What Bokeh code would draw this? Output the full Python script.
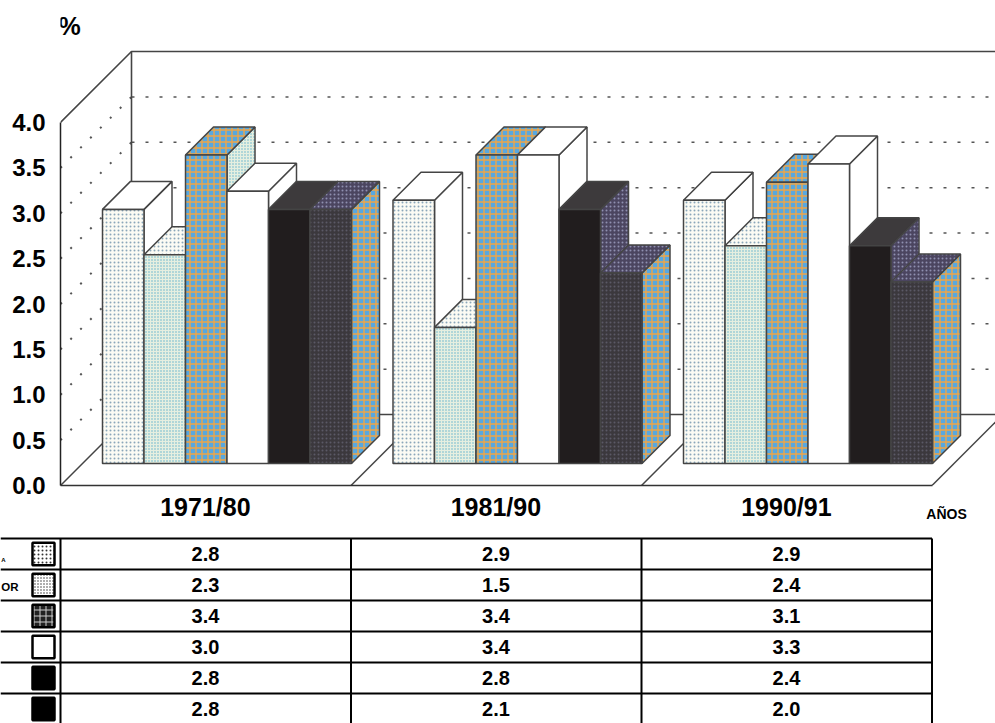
from bokeh.plotting import figure
from bokeh.layouts import column
from bokeh.models import Range1d, FixedTicker, Label, LinearAxis
from bokeh.core.properties import value
from bokeh.embed import file_html
from bokeh.resources import INLINE

# ---- data ----
periods = ["1971/80", "1981/90", "1990/91"]
s1 = [2.8, 2.9, 2.9]
s2 = [2.3, 1.5, 2.4]
s3 = [3.4, 3.4, 3.1]
s4 = [3.0, 3.4, 3.3]
s5 = [2.8, 2.8, 2.4]
s6 = [2.8, 2.1, 2.0]
series = [s1, s2, s3, s4, s5, s6]
y_ticks = [0, 0.5, 1, 1.5, 2, 2.5, 3, 3.5, 4]
row_labels = ["A", "OR"]

# ---- layout of the oblique projection ----
W, H_TOP, H_BOT = 995, 528, 195
PX_X, PX_Y = 290.5, 90.75       # pixels per group / per unit of value
KX, KY = 1 / PX_X, 1 / PX_Y     # one pixel of depth in data units
D_FRONT, D_BACK, D_WALL = 22, 50, 71
OX = -20 / PX_X                 # floor edge offset of a group
X0 = 80                         # pixel column of x=0
NB = 7


def proj(x, v, d):
    return x + d * KX, v + d * KY


x_range = Range1d((60 - X0) / PX_X, (W - X0) / PX_X)
y_range = Range1d(0, 485 / PX_Y)

p = figure(width=W, height=H_TOP, x_range=x_range, y_range=y_range,
           output_backend="svg", toolbar_location=None,
           min_border=0, min_border_left=60, min_border_bottom=43,
           outline_line_color=None, background_fill_color="white")
p.frame_align = False
p.grid.visible = False

FONT = "Liberation Sans"
p.yaxis.ticker = FixedTicker(ticks=y_ticks)
p.yaxis.major_label_overrides = {t: f"{t:.1f}" for t in y_ticks}
p.yaxis.bounds = (0, 4)
p.yaxis.major_tick_line_color = None
p.yaxis.minor_tick_line_color = None
p.yaxis.axis_line_color = "#222222"
p.yaxis.axis_line_width = 1.5
p.yaxis.major_label_standoff = 9
p.yaxis.major_label_text_font = FONT
p.yaxis.major_label_text_font_style = "bold"
p.yaxis.major_label_text_font_size = "24px"
p.yaxis.major_label_text_color = "black"

centers = [i + 0.43 for i in range(3)]
main_x = p.xaxis[0]
main_x.ticker = FixedTicker(ticks=centers)
main_x.major_label_overrides = dict(zip(centers, periods))
main_x.bounds = (OX, 3 + OX)
main_x.major_tick_line_color = None
main_x.minor_tick_line_color = None
main_x.axis_line_color = "#333333"
main_x.axis_line_width = 1.5
main_x.major_label_standoff = 1
main_x.major_label_text_font = FONT
main_x.major_label_text_font_style = "bold"
main_x.major_label_text_font_size = "25px"
main_x.major_label_text_color = "black"

# the axis title sits to the right of the last period, as a second axis under the first
anos_x = (946 - X0) / PX_X
anos = LinearAxis(ticker=FixedTicker(ticks=[anos_x]), major_label_overrides={anos_x: "AÑOS"},
                  axis_line_color=None, major_tick_line_color=None, minor_tick_line_color=None,
                  major_label_standoff=-24, major_label_text_font=FONT,
                  major_label_text_font_style="bold", major_label_text_font_size="14px",
                  major_label_text_color="black")
p.add_layout(anos, "below")

GRID = "#555555"
EDGE = "#444444"
x_right = x_range.end

# gridlines on the back wall and dotted guides on the left wall
for t_val in y_ticks[1:-1]:
    wx, wy = proj(OX, t_val, D_WALL)
    p.line([wx, x_right], [wy, wy], line_color=GRID, line_width=1.5, line_dash="3 11")
    lx0, ly0 = proj(OX, t_val, 0)
    p.line([lx0, wx], [ly0, wy], line_color=GRID, line_width=2, line_dash="2 12")

# wall outline
tx, ty = proj(OX, 4, D_WALL)
bx, by = proj(OX, 0, D_WALL)
fx, fy = proj(OX, 4, 0)
p.line([fx, tx, x_right], [fy, ty, ty], line_color=EDGE, line_width=1.6)
p.line([tx, bx, x_right], [ty, by, by], line_color=EDGE, line_width=1.6)

# floor diagonals
for i in range(4):
    ax, ay = proj(i + OX, 0, 0)
    cx, cy = proj(i + OX, 0, D_WALL)
    p.line([ax, cx], [ay, cy], line_color=EDGE, line_width=1.5)

WEAVE = dict(fill_color="#58a8e0", hatch_pattern="cross", hatch_color="#eda548",
             hatch_scale=6, hatch_weight=1.4)
PALE = dict(fill_color="#fbfbf4", hatch_color="#8aa6ba", hatch_pattern="dot",
            hatch_scale=4, hatch_weight=1.2)
TEAL = dict(fill_color="#e6efe0", hatch_color="#5fb0cc", hatch_pattern="dot",
            hatch_scale=3, hatch_weight=1.2)
PLAIN = dict(fill_color="#ffffff")
BLACK = dict(fill_color="#211d1e")
DARK = dict(fill_color="#3b383d", hatch_pattern="dot", hatch_color="#5b5966",
            hatch_scale=4, hatch_weight=1.2)
PURPLE = dict(fill_color="#4b4560", hatch_pattern="dot", hatch_color="#8f8fb0",
              hatch_scale=4, hatch_weight=1.4)
GRAPH = dict(fill_color="#3d3a3c")

# (front, top, side) of each series
faces = [
    (PALE, PLAIN, PLAIN),
    (TEAL, PALE, TEAL),
    (WEAVE, WEAVE, TEAL),
    (PLAIN, PLAIN, PLAIN),
    (BLACK, GRAPH, PURPLE),
    (DARK, PURPLE, WEAVE),
]
BAR = dict(line_color=EDGE, line_width=1.5)

for j, vals in enumerate(series):
    front, top, side = faces[j]
    w = 1 / NB
    lefts = [i + j * w for i in range(len(vals))]
    sx, sy, tpx, tpy = [], [], [], []
    for x, v in zip(lefts, vals):
        pts = [proj(x + w, 0, D_FRONT), proj(x + w, 0, D_BACK),
               proj(x + w, v, D_BACK), proj(x + w, v, D_FRONT)]
        sx.append([a for a, _ in pts])
        sy.append([b for _, b in pts])
        pts = [proj(x, v, D_FRONT), proj(x + w, v, D_FRONT),
               proj(x + w, v, D_BACK), proj(x, v, D_BACK)]
        tpx.append([a for a, _ in pts])
        tpy.append([b for _, b in pts])
    p.patches(sx, sy, **side, **BAR)
    p.patches(tpx, tpy, **top, **BAR)
    base = D_FRONT * KY
    p.quad(left=[x + D_FRONT * KX for x in lefts],
           right=[x + w + D_FRONT * KX for x in lefts],
           bottom=[base] * 3, top=[base + v for v in vals], **front, **BAR)

p.add_layout(Label(x=(69 - X0) / PX_X, y=(485 - 25) / PX_Y, text="%", text_align="center",
                   text_baseline="middle", text_font=FONT, text_font_style="bold",
                   text_font_size="25px", text_color="black"))

# ---- table ----
ROW = 31
t = figure(width=W, height=H_BOT, x_range=Range1d(-X0 / PX_X, (W - X0) / PX_X),
           y_range=Range1d((723 - 538) / ROW, -10 / ROW),
           output_backend="svg", toolbar_location=None, min_border=0,
           outline_line_color=None, x_axis_location=None, y_axis_location=None)
t.frame_align = False
t.grid.visible = False
left_edge = -X0 / PX_X
for r in range(6):
    t.line([left_edge, 3 + OX], [r, r], line_color="black", line_width=2)
for i in range(4):
    t.line([i + OX, i + OX], [0, 6], line_color="black", line_width=2)

for i in range(3):
    t.text(x=[i + 0.43] * 6, y=[r + 0.5 for r in range(6)],
           text=[f"{s[i]:.1f}" for s in series], text_align="center",
           text_baseline="middle", text_font_size="20px", text_font_style="bold",
           text_color="black", text_font=value(FONT))

t.text(x=[(18 - X0) / PX_X], y=[1.55], text=[row_labels[1]], text_align="right",
       text_baseline="middle", text_font_size="11.5px", text_font_style="bold",
       text_font=value(FONT), text_color="black")
t.text(x=[(5 - X0) / PX_X], y=[0.7], text=[row_labels[0]], text_align="right",
       text_baseline="middle", text_font_size="6px", text_font_style="bold",
       text_font=value(FONT), text_color="black")

sw_l, sw_r = (32 - X0) / PX_X, (54 - X0) / PX_X
SW_STYLES = [
    dict(fill_color="white", hatch_pattern="dot", hatch_color="#333333", hatch_scale=4, hatch_weight=1.4),
    dict(fill_color="white", hatch_pattern="dot", hatch_color="#333333", hatch_scale=3, hatch_weight=1.6),
    dict(fill_color="#222222", hatch_pattern="cross", hatch_color="#cccccc", hatch_scale=6, hatch_weight=1),
    dict(fill_color="white"),
    dict(fill_color="black"),
    dict(fill_color="black"),
]
for r, st in enumerate(SW_STYLES):
    t.quad(left=[sw_l], right=[sw_r], top=[r + 0.14], bottom=[r + 0.86],
           line_color="black", line_width=2.5, **st)

page = column(p, t, spacing=0)
open("out.html", "w").write(file_html(page, INLINE))
